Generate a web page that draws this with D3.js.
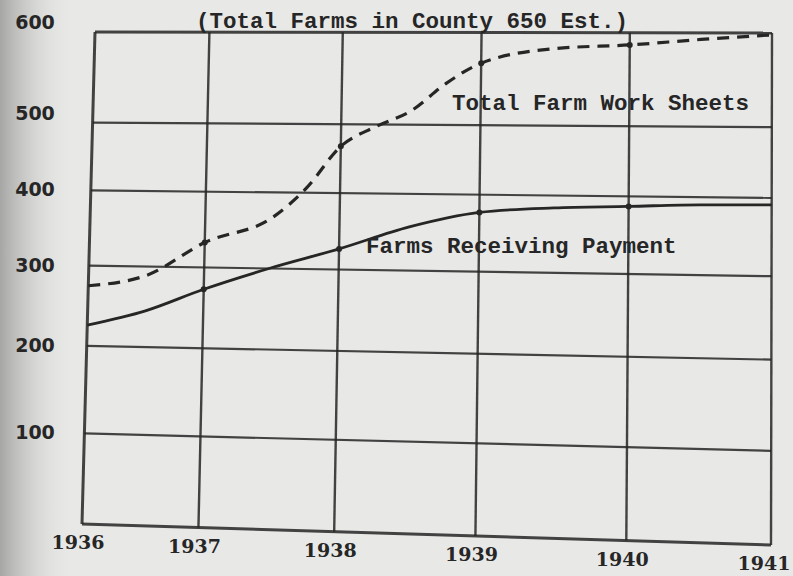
<!DOCTYPE html>
<html>
<head>
<meta charset="utf-8">
<script src="https://cdn.jsdelivr.net/npm/d3@7"></script>
<style>
  body { margin: 0; background: #e8e8e6; }
  svg { display: block; }
</style>
</head>
<body>
<script>
// tick labels
var yearTicks = [1936, 1937, 1938, 1939, 1940, 1941];
var valueTicks = [100, 200, 300, 400, 500, 600];

// Total Farm Work Sheets (dashed)
var sheetYears = [1936, 1936.5, 1937, 1937.5, 1937.75, 1938, 1938.25, 1938.5, 1938.75, 1939, 1939.5, 1940, 1940.5, 1941];
var sheetValues = [275, 289, 333, 367, 407, 468, 497, 515, 545, 567, 583, 587, 593, 598];

// Farms Receiving Payment (solid)
var payYears = [1936, 1936.5, 1937, 1937.5, 1938, 1938.5, 1939, 1939.5, 1940, 1940.5, 1941];
var payValues = [226, 245, 273, 301, 327, 357, 377, 384, 387, 390, 391];

var labels = [
  {text: "(Total Farms in County 650 Est.)", x: 196, y: 28},
  {text: "Total Farm Work Sheets", x: 452, y: 110},
  {text: "Farms Receiving Payment", x: 366, y: 253}
];

var width = 793, height = 576;

var svg = d3.select("body").append("svg")
            .attr("width", width)
            .attr("height", height);

// paper background, darker toward the left edge
var defs = svg.append("defs");
var grad = defs.append("linearGradient").attr("id", "edge")
               .attr("x1", 0).attr("x2", 1).attr("y1", 0).attr("y2", 0);
grad.append("stop").attr("offset", "0%").attr("stop-color", "#a6a6a4").attr("stop-opacity", 1);
grad.append("stop").attr("offset", "100%").attr("stop-color", "#e8e8e6").attr("stop-opacity", 0);

svg.append("rect").attr("width", width).attr("height", height).attr("fill", "#e8e8e6");
svg.append("rect").attr("width", 75).attr("height", height).attr("fill", "url(#edge)");

// the hand drawn grid is uneven, so scales map onto 0..1 and a warp puts them on the skewed sheet
var uScale = d3.scaleLinear()
               .domain(yearTicks)
               .range([0, 0.169, 0.366, 0.571, 0.790, 1]);
var vScale = d3.scaleLinear()
               .domain([0, 100, 200, 300, 400, 500, 600])
               .range([1, 0.816, 0.638, 0.475, 0.322, 0.184, 0]);

var TL = [95, 32], TR = [772, 33], BL = [82, 524], BR = [771, 545];

function warp(u, v) {
  var a = (1 - u) * (1 - v), b = u * (1 - v), c = (1 - u) * v, d = u * v;
  return [a * TL[0] + b * TR[0] + c * BL[0] + d * BR[0],
          a * TL[1] + b * TR[1] + c * BL[1] + d * BR[1]];
}

function pt(year, value) {
  return warp(uScale(year), vScale(value));
}

var ink = "#262626";

// horizontal grid lines
var hLines = [0].concat(valueTicks);
svg.selectAll(".hgrid")
   .data(hLines)
   .enter().append("line")
   .attr("class", "hgrid")
   .attr("x1", function(d) { return warp(0, vScale(d))[0]; })
   .attr("y1", function(d) { return warp(0, vScale(d))[1]; })
   .attr("x2", function(d) { return warp(1, vScale(d))[0]; })
   .attr("y2", function(d) { return warp(1, vScale(d))[1]; })
   .attr("stroke", ink)
   .attr("stroke-width", function(d) { return (d == 0 || d == 600) ? 3 : 2.2; })
   .attr("opacity", 0.85);

// vertical grid lines
svg.selectAll(".vgrid")
   .data(yearTicks)
   .enter().append("line")
   .attr("class", "vgrid")
   .attr("x1", function(d) { return warp(uScale(d), 0)[0]; })
   .attr("y1", function(d) { return warp(uScale(d), 0)[1]; })
   .attr("x2", function(d) { return warp(uScale(d), 1)[0]; })
   .attr("y2", function(d) { return warp(uScale(d), 1)[1]; })
   .attr("stroke", ink)
   .attr("stroke-width", function(d) { return d == 1936 ? 3 : 2.4; })
   .attr("opacity", 0.85);

// series
var lineFunction = d3.line()
                     .x(function(d) { return d[0]; })
                     .y(function(d) { return d[1]; })
                     .curve(d3.curveMonotoneX);

var sheetPts = sheetYears.map(function(y, i) { return pt(y, sheetValues[i]); });
var payPts = payYears.map(function(y, i) { return pt(y, payValues[i]); });

svg.append("path")
   .attr("d", lineFunction(sheetPts))
   .attr("fill", "none")
   .attr("stroke", ink)
   .attr("stroke-width", 3.2)
   .attr("stroke-dasharray", "12,8");

svg.append("path")
   .attr("d", lineFunction(payPts))
   .attr("fill", "none")
   .attr("stroke", ink)
   .attr("stroke-width", 2.8);

// dots where the curves cross the year lines
var dotYears = [1937, 1938, 1939, 1940];
function dotsFor(years, values) {
  return dotYears.map(function(y) { return pt(y, values[years.indexOf(y)]); });
}
svg.selectAll(".dot")
   .data(dotsFor(sheetYears, sheetValues).concat(dotsFor(payYears, payValues)))
   .enter().append("circle")
   .attr("class", "dot")
   .attr("cx", function(d) { return d[0]; })
   .attr("cy", function(d) { return d[1]; })
   .attr("r", 3)
   .attr("fill", ink);

// value labels on the left
svg.selectAll(".ylab")
   .data(valueTicks)
   .enter().append("text")
   .attr("class", "ylab")
   .attr("x", 35)
   .attr("y", function(d) { return warp(0, vScale(d))[1] + (d >= 500 ? -3 : 6); })
   .attr("text-anchor", "middle")
   .attr("font-family", "DejaVu Sans")
   .attr("font-weight", "bold")
   .attr("font-size", 19)
   .attr("fill", ink)
   .text(function(d) { return d; });

// year labels below
svg.selectAll(".xlab")
   .data(yearTicks)
   .enter().append("text")
   .attr("class", "xlab")
   .attr("x", function(d) { return Math.min(warp(uScale(d), 1)[0] - 4, width - 29); })
   .attr("y", function(d) { return warp(uScale(d), 1)[1] + 25; })
   .attr("text-anchor", "middle")
   .attr("font-family", "DejaVu Serif")
   .attr("font-weight", "bold")
   .attr("font-size", 19)
   .attr("fill", ink)
   .text(function(d) { return d; });

// typed annotations
svg.selectAll(".note")
   .data(labels)
   .enter().append("text")
   .attr("class", "note")
   .attr("x", function(d) { return d.x; })
   .attr("y", function(d) { return d.y; })
   .attr("font-family", "Liberation Mono")
   .attr("font-weight", "bold")
   .attr("font-size", 22.5)
   .attr("fill", ink)
   .text(function(d) { return d.text; });
</script>
</body>
</html>
